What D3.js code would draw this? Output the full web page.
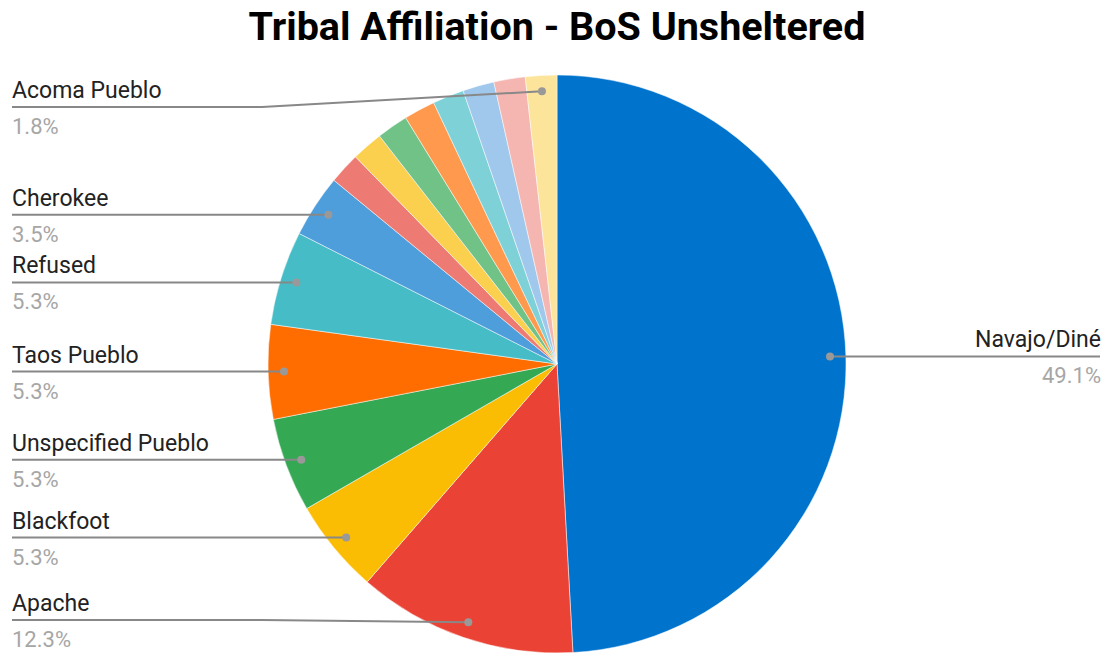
<!DOCTYPE html>
<html>
<head>
<meta charset="utf-8">
<script src="https://cdn.jsdelivr.net/npm/d3@7"></script>
<style>
  body { margin: 0; background: #fff; }
  text { font-family: Roboto, "Noto Sans", sans-serif; }
</style>
</head>
<body>
<div id="pie_div"></div>
<script>
// slice order: clockwise from 12 o'clock
const categories = ["Navajo/Diné", "Apache", "Blackfoot", "Unspecified Pueblo", "Taos Pueblo",
    "Refused", "Cherokee", "Other 1", "Other 2", "Other 3", "Other 4", "Other 5", "Other 6",
    "Other 7", "Acoma Pueblo"];
const counts = [28, 7, 3, 3, 3, 3, 2, 1, 1, 1, 1, 1, 1, 1, 1];
const percentLabels = ["49.1%", "12.3%", "5.3%", "5.3%", "5.3%", "5.3%", "3.5%",
    "1.8%", "1.8%", "1.8%", "1.8%", "1.8%", "1.8%", "1.8%", "1.8%"];
const labeled = ["Navajo/Diné", "Apache", "Blackfoot", "Unspecified Pueblo", "Taos Pueblo",
    "Refused", "Cherokee", "Acoma Pueblo"];
const colors = ["#0074cc", "#ea4335", "#fbbc04", "#34a853", "#ff6d01", "#46bdc6", "#4e9edb",
    "#ee7b73", "#fcd04f", "#71c287", "#ff994d", "#7ed1d7", "#9fc8ec", "#f5b6b2", "#fde49b"];

const width = 1108, height = 656;
const cx = 557, cy = 364, radius = 289;
const dotRadius = radius * 0.945;

const svg = d3.select("#pie_div")
    .append("svg")
    .attr("width", width)
    .attr("height", height);

svg.append("text")
    .attr("x", cx)
    .attr("y", 40)
    .attr("text-anchor", "middle")
    .attr("font-size", 39.5)
    .attr("font-weight", "bold")
    .attr("fill", "#000")
    .text("Tribal Affiliation - BoS Unsheltered");

const data = categories.map(function(c, i) {
    return {name: c, value: counts[i], pct: percentLabels[i], color: colors[i]};
});

const pie = d3.pie().sort(null).value(d => d.value);
const arcs = pie(data);

const arc = d3.arc().innerRadius(0).outerRadius(radius);

const g = svg.append("g")
    .attr("transform", "translate(" + cx + "," + cy + ")");

g.selectAll("path")
    .data(arcs)
    .enter()
    .append("path")
    .attr("d", arc)
    .attr("fill", d => d.data.color)
    .attr("stroke", "#fff")
    .attr("stroke-width", 0.5);

// labels
const labelGroup = svg.append("g");

arcs.filter(d => labeled.includes(d.data.name)).forEach(function(d) {
    const mid = (d.startAngle + d.endAngle) / 2;
    const dx = cx + dotRadius * Math.sin(mid);
    const dy = cy - dotRadius * Math.cos(mid);
    const right = dx > cx;
    const lineY = Math.max(107, Math.min(620, dy));

    let points;
    if (right) {
        points = [[dx, dy], [dx + 6, lineY], [1100, lineY]];
    } else {
        const elbow = Math.min(262, dx - 6);
        points = [[12, lineY], [elbow, lineY], [dx, dy]];
    }

    labelGroup.append("path")
        .attr("d", d3.line()(points))
        .attr("fill", "none")
        .attr("stroke", "#888")
        .attr("stroke-width", 2);

    labelGroup.append("circle")
        .attr("cx", dx)
        .attr("cy", dy)
        .attr("r", 4)
        .attr("fill", "#999");

    const tx = right ? 1101 : 12;
    const anchor = right ? "end" : "start";

    labelGroup.append("text")
        .attr("x", tx)
        .attr("y", lineY - 9)
        .attr("text-anchor", anchor)
        .attr("font-size", 23)
        .attr("fill", "#222")
        .text(d.data.name);

    labelGroup.append("text")
        .attr("x", tx)
        .attr("y", lineY + 27)
        .attr("text-anchor", anchor)
        .attr("font-size", 22)
        .attr("fill", "#a6a6a6")
        .text(d.data.pct);
});
</script>
</body>
</html>
